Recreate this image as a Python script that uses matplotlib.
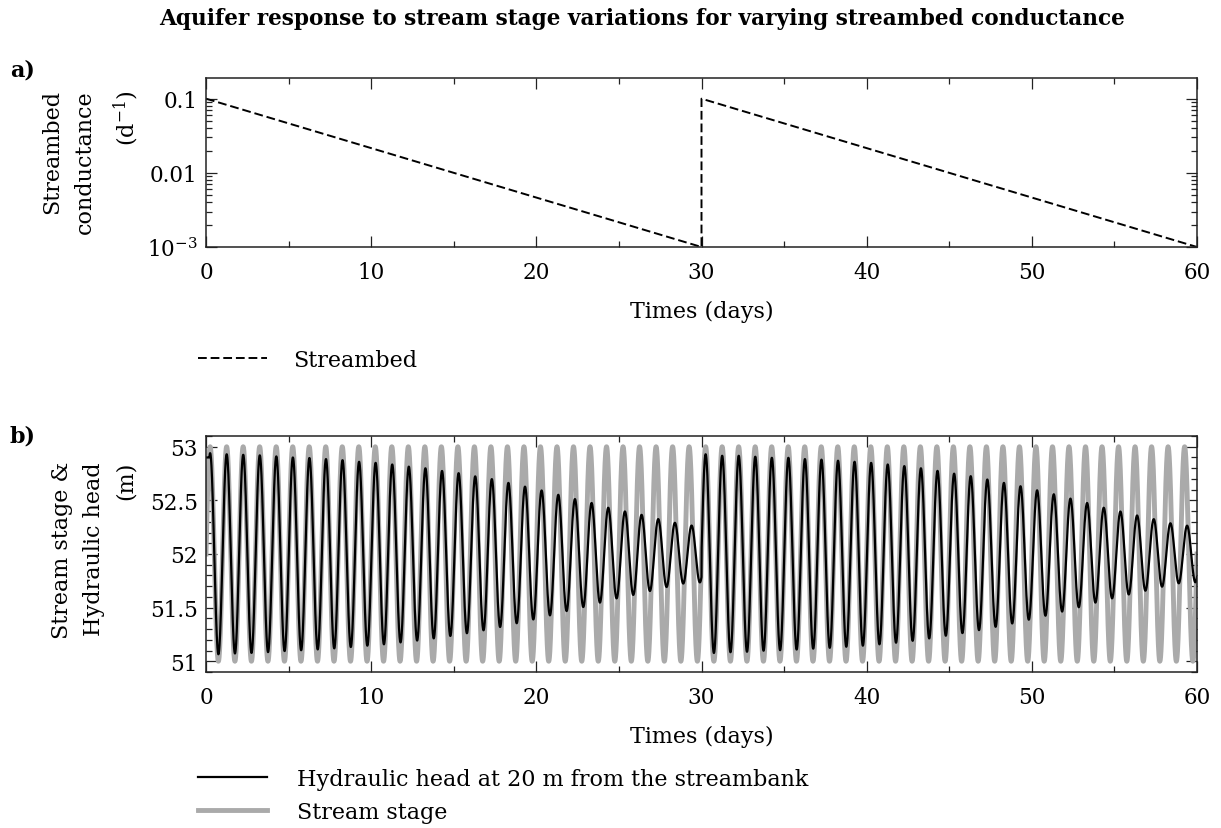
import numpy as np
import matplotlib
matplotlib.use("Agg")
import matplotlib.pyplot as plt
from matplotlib.ticker import MultipleLocator, LogLocator, FixedLocator, FuncFormatter, NullFormatter, FormatStrFormatter
from matplotlib.lines import Line2D

plt.rcParams['font.family'] = ['DejaVu Serif']
plt.rcParams['mathtext.fontset'] = 'dejavuserif'

# streambed conductance (1/d), reset to 0.1 at day 30
cond_days = [0, 30, 30, 60]
cond_values = [0.1, 0.001, 0.1, 0.001]

# stream stage: daily oscillation around the mean stage (m)
stage_mean = 52.0
stage_amplitude = 1.0
stage_period = 1.0

# head amplitude (m) at each daily peak, one list per 30-day conductance cycle
head_amp_first = [0.94, 0.93, 0.925, 0.92, 0.91, 0.90, 0.895, 0.885, 0.875, 0.86,
                  0.85, 0.835, 0.815, 0.80, 0.775, 0.755, 0.725, 0.70, 0.665, 0.63,
                  0.595, 0.555, 0.515, 0.48, 0.435, 0.40, 0.37, 0.33, 0.295, 0.265]
head_amp_second = [0.93, 0.916, 0.916, 0.907, 0.897, 0.897, 0.885, 0.88, 0.87, 0.86,
                   0.85, 0.835, 0.82, 0.80, 0.776, 0.75, 0.727, 0.696, 0.665, 0.634,
                   0.596, 0.56, 0.52, 0.48, 0.435, 0.40, 0.363, 0.33, 0.29, 0.264]
# lag of head behind stage (days) at a few cycles after each reset
lag_cycle = [0, 10, 20, 29]
lag_days = [0.0, 0.02, 0.07, 0.15]
# head at the start of the run (m)
head_start = 52.9

t = np.linspace(0, 60, 12001)
stage = stage_mean + stage_amplitude * np.sin(2 * np.pi * t / stage_period)

head = np.empty_like(t)
for k, amps in enumerate([head_amp_first, head_amp_second]):
    start = 30 * k
    sel = (t >= start) & (t <= start + 30) if k == 0 else (t > start)
    local = t[sel] - start
    peaks = np.arange(len(amps)) + 0.25
    amp = np.interp(local, peaks, amps)
    lag = np.interp(local, np.array(lag_cycle) + 0.25, lag_days)
    head[sel] = stage_mean + amp * np.sin(2 * np.pi * (t[sel] - lag) / stage_period)
# initial condition: head begins high and joins the oscillation within the first hours
t0 = t < 0.25
head[t0] = np.maximum(head[t0], head_start)

W, H = 1221, 829
fig = plt.figure(figsize=(W / 100, H / 100), dpi=100)

def box(l, t_, r, b):
    return [l / W, 1 - b / H, (r - l) / W, (b - t_) / H]

ax1 = fig.add_axes(box(206, 79, 1197, 248))
ax2 = fig.add_axes(box(206, 437, 1197, 673))

fs = 16
tick_fs = 15.5

# a) conductance
ax1.plot(cond_days, cond_values, color='black', lw=1.4, linestyle=(0, (4.5, 2)))
ax1.set_yscale('log')
ax1.set_xlim(0, 60)
ax1.set_ylim(1e-3, 0.19)
ax1.yaxis.set_major_locator(FixedLocator([1e-3, 1e-2, 1e-1]))
ax1.yaxis.set_major_formatter(FuncFormatter(
    lambda v, p: {1e-3: r'$10^{-3}$', 1e-2: '0.01', 1e-1: '0.1'}.get(round(v, 6), '')))
ax1.yaxis.set_minor_locator(LogLocator(base=10, subs=np.arange(2, 10), numticks=12))
ax1.yaxis.set_minor_formatter(NullFormatter())
ax1.set_xlabel('Times (days)', fontsize=fs, labelpad=12)

# b) stage and head
ax2.plot(t, stage, color='#aaaaaa', lw=3.5, solid_joinstyle='round')
ax2.plot(t, head, color='black', lw=1.6)
ax2.set_xlim(0, 60)
ax2.set_ylim(50.9, 53.1)
ax2.yaxis.set_major_locator(MultipleLocator(0.5))
ax2.yaxis.set_minor_locator(MultipleLocator(0.1))
ax2.yaxis.set_major_formatter(FormatStrFormatter('%g'))
ax2.set_xlabel('Times (days)', fontsize=fs, labelpad=12)

for ax in (ax1, ax2):
    ax.xaxis.set_major_locator(MultipleLocator(10))
    ax.xaxis.set_minor_locator(MultipleLocator(5))
    ax.tick_params(which='both', direction='in', top=True, right=True,
                   labelsize=tick_fs, width=0.9, colors='#222222', labelcolor='black')
    ax.tick_params(which='major', length=8)
    ax.tick_params(which='minor', length=4.5)
    ax.tick_params(axis='x', which='major', pad=10)
    ax.tick_params(axis='y', which='major', pad=6)
    for sp in ax.spines.values():
        sp.set_linewidth(1.1)
        sp.set_color('#222222')

fig.text(91 / W, 1 - 90 / H, 'Streambed\nconductance\n(d$^{-1}$)', rotation=90,
         ha='center', va='top', multialignment='right', fontsize=fs, linespacing=1.65)
fig.text(94 / W, 1 - 462 / H, 'Stream stage &\nHydraulic head\n(m)', rotation=90,
         ha='center', va='top', multialignment='right', fontsize=fs, linespacing=1.6)

fig.text(642 / W, 1 - 8 / H,
         'Aquifer response to stream stage variations for varying streambed conductance',
         ha='center', va='top', fontsize=15.6, fontweight='bold')
fig.text(10 / W, 1 - 60 / H, 'a)', ha='left', va='top', fontsize=16, fontweight='bold')
fig.text(10 / W, 1 - 426 / H, 'b)', ha='left', va='top', fontsize=16, fontweight='bold')

# legends
leg_kw = dict(loc='upper left', frameon=False, fontsize=fs, handlelength=3.1,
              borderpad=0, borderaxespad=0, labelspacing=0.5,
              bbox_transform=fig.transFigure)
fig.legend([Line2D([], [], color='black', lw=1.4, linestyle=(0, (4.5, 2)))],
           ['Streambed'], bbox_to_anchor=(198 / W, 1 - 350 / H),
           handletextpad=1.2, **leg_kw)
fig.legend([Line2D([], [], color='black', lw=1.6),
            Line2D([], [], color='#aaaaaa', lw=3.5)],
           ['Hydraulic head at 20 m from the streambank', 'Stream stage'],
           bbox_to_anchor=(198 / W, 1 - 769 / H), handletextpad=1.35, **leg_kw)

fig.savefig('out.png', dpi=100)
